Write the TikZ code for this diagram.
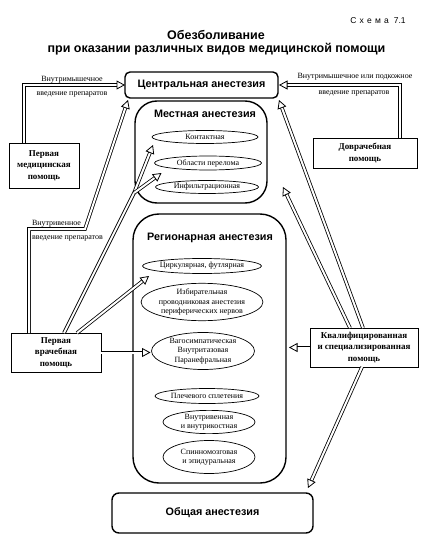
\documentclass[tikz,border=0pt]{standalone}
\usepackage{fontspec}
\setmainfont{Liberation Serif}
\setsansfont{Liberation Sans}
\usetikzlibrary{arrows.meta,shapes.geometric}
\begin{document}
\begin{tikzpicture}[x=1pt,y=-1pt,
  every node/.style={inner sep=0pt, outer sep=0pt},
  hbox/.style={draw, line width=1.4pt, font=\sffamily\bfseries\fontsize{10.8}{12}\selectfont},
  bigframe/.style={draw, line width=1.4pt},
  ttl/.style={font=\sffamily\bfseries\fontsize{10.8}{12}\selectfont},
  oval/.style={draw, ellipse, line width=0.7pt, font=\fontsize{8}{9.5}\selectfont, align=center},
  helpbox/.style={draw, line width=0.8pt, font=\bfseries\fontsize{9}{11.5}\selectfont, align=center},
  note/.style={font=\fontsize{8}{9}\selectfont},
  dline/.style={double, double distance=2pt, line width=0.8pt},
  dbl/.style={dline, -{Triangle[open,length=8.5pt,width=9pt,line width=0.8pt]}}
]
\useasboundingbox (0,0) rectangle (432,540);

% headings
\node[font=\sffamily\fontsize{8.5}{10}\selectfont] (schema) at (378,21) {С\hspace{3.2pt}х\hspace{3.2pt}е\hspace{3.2pt}м\hspace{3.2pt}а\hspace{5pt}7.1};
\node[font=\sffamily\bfseries\fontsize{12.5}{14}\selectfont] (t1) at (216,35) {Обезболивание};
\node[font=\sffamily\bfseries\fontsize{12.5}{14}\selectfont] (t2) at (216.5,49) {при оказании различных видов медицинской помощи};

% anesthesia blocks
\node[hbox, rounded corners=5pt, minimum width=153pt, minimum height=26pt] (cen) at (201.5,85) {Центральная анестезия};
\node[bigframe, rounded corners=22pt, minimum width=132pt, minimum height=102pt] (mest) at (201,152) {};
\node[ttl] (mestT) at (205,114) {Местная анестезия};
\node[bigframe, rounded corners=26pt, minimum width=153pt, minimum height=269pt] (reg) at (209.5,348.5) {};
\node[ttl] (regT) at (210,238) {Регионарная анестезия};
\node[hbox, rounded corners=7pt, minimum width=201pt, minimum height=40pt] (obsh) at (212.5,513) {Общая анестезия};

% ellipses
\node[oval, minimum width=106pt, minimum height=13pt] (kont) at (205,137) {Контактная};
\node[oval, minimum width=107pt, minimum height=14pt] (obl) at (208,163) {Области перелома};
\node[oval, minimum width=103pt, minimum height=13pt] (inf) at (207,187) {Инфильтрационная};
\node[oval, minimum width=117pt, minimum height=15pt] (tsirk) at (202,266) {Циркулярная, футлярная};
\node[oval, minimum width=117pt, minimum height=33pt] (izb) at (202,302) {Избирательная\\проводниковая анестезия\\периферических нервов};
\node[oval, minimum width=103pt, minimum height=37pt] (vago) at (203,351) {Вагосимпатическая\\Внутритазовая\\Паранефральная};
\node[oval, minimum width=104pt, minimum height=15pt] (plech) at (207,396) {Плечевого сплетения};
\node[oval, minimum width=92pt, minimum height=21pt] (vnutr) at (209,422) {Внутривенная\\и внутрикостная};
\node[oval, minimum width=92pt, minimum height=33pt] (spinn) at (209,457) {Спинномозговая\\и эпидуральная};

% kinds of help
\node[helpbox, minimum width=70pt, minimum height=45pt] (pm) at (44,165.5) {Первая\\медицинская\\помощь};
\node[helpbox, minimum width=104pt, minimum height=30pt] (dov) at (365,153) {Доврачебная\\помощь};
\node[helpbox, minimum width=90pt, minimum height=39pt] (pv) at (56,352.5) {Первая\\врачебная\\помощь};
\node[helpbox, minimum width=108pt, minimum height=39pt] (kv) at (364,347.5) {Квалифицированная\\и специализированная\\помощь};

% notes
\node[note] (n1a) at (72,80) {Внутримышечное};
\node[note] (n1b) at (72,94) {введение препаратов};
\node[note] (n2a) at (355,77) {Внутримышечное или подкожное};
\node[note] (n2b) at (354,93) {введение препаратов};
\node[note, anchor=west] (n3a) at (32,224) {Внутривенное};
\node[note, anchor=west] (n3b) at (32,238) {введение препаратов};

% connectors
\coordinate (jn) at (134,193);
\coordinate (pmTop) at ([xshift=-20pt]pm.north);
\coordinate (dovTop) at ([xshift=35pt]dov.north);
\draw[dbl] (pmTop) -- (pmTop |- cen.west) -- (cen.west);
\draw[dbl] (dovTop) -- (dovTop |- cen.east) -- ([xshift=1pt]cen.east);
\draw[dbl] ([xshift=-27pt]pv.north) -- ++(0,-104) -- ++(56,0) -- ([xshift=3pt,yshift=-2pt]cen.south west);
\draw[dline] ([xshift=8pt]pv.north) -- (jn);
\draw[dbl] (jn) -- ([xshift=1pt,yshift=-8pt]kont.west);
\draw[dbl] (jn) -- ([xshift=7pt,yshift=-10pt]obl.west);
\draw[dbl] ([xshift=21pt]pv.north) -- ([xshift=6.5pt,yshift=-10pt]tsirk.west);
\draw[dbl] (pv.east) -- ([xshift=-1pt]pv.east -| vago.west);
\draw[dbl] ([xshift=-1pt]kv.north) -- ([xshift=1pt,yshift=-2pt]cen.south east);
\draw[dbl] ([xshift=-14pt]kv.north) -- ([xshift=16pt,yshift=-35pt]mest.east);
\draw[dbl] (kv.west) -- ([xshift=3pt]kv.west -| reg.east);
\draw[dbl] ([xshift=-2pt]kv.south) -- ([xshift=-5pt,yshift=5pt]obsh.north east);
\end{tikzpicture}
\end{document}
